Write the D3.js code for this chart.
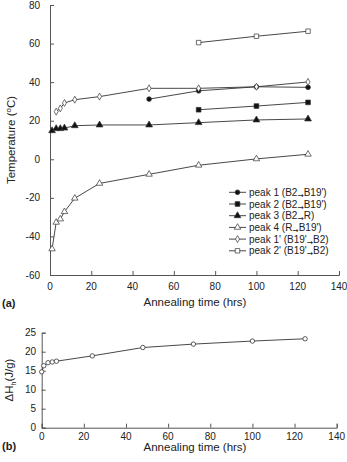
<!DOCTYPE html>
<html>
<head>
<meta charset="utf-8">
<script src="https://cdn.jsdelivr.net/npm/d3@7"></script>
<style>
  body { margin: 0; background: #fff; }
  text { font-family: "Liberation Sans", Arial, sans-serif; fill: #222; }
</style>
</head>
<body>
<div id="chart"></div>
<script>
// panel (a) data
const peak1 = { t: [48, 72, 100, 125], v: [31.2, 35.5, 37.6, 37.3] };
const peak2 = { t: [72, 100, 125], v: [25.7, 27.6, 29.5] };
const peak3 = { t: [1, 3, 5, 7, 12, 24, 48, 72, 100, 125], v: [14.8, 15.9, 15.9, 16.2, 17.4, 17.8, 17.8, 19.0, 20.4, 20.9] };
const peak4 = { t: [1, 3, 5, 7, 12, 24, 48, 72, 100, 125], v: [-46.5, -32.7, -31.0, -27.2, -20.2, -12.5, -7.8, -3.1, 0.2, 2.6] };
const peak1p = { t: [3, 5, 7, 12, 24, 48, 72, 100, 125], v: [24.7, 26.4, 29.2, 30.9, 32.5, 36.8, 36.8, 37.6, 40.1] };
const peak2p = { t: [72, 100, 125], v: [60.5, 63.8, 66.4] };
const legendNames = [
  ["peak 1 (B2", "B19')"],
  ["peak 2 (B2", "B19')"],
  ["peak 3 (B2", "R)"],
  ["peak 4 (R", "B19')"],
  ["peak 1' (B19'", "B2)"],
  ["peak 2' (B19'", "B2)"]
];
// panel (b) data
const enthalpy = { t: [0, 1, 3, 5, 7, 24, 48, 72, 100, 125], v: [14.7, 16.3, 17.1, 17.3, 17.5, 18.9, 21.1, 22.0, 22.8, 23.4] };

const xTicks = [0, 20, 40, 60, 80, 100, 120, 140];
const yTicksA = [-60, -40, -20, 0, 20, 40, 60, 80];
const yTicksB = [0, 5, 10, 15, 20, 25];

const svg = d3.select("#chart").append("svg")
  .attr("width", 347).attr("height", 462);

const lineColor = "#333";

// ---- panel (a)
const xA = d3.scaleLinear().domain([0, 140]).range([50, 339]);
const yA = d3.scaleLinear().domain([-60, 80]).range([275, 5]);

function drawAxes(x, y, yTicks, labelX, labelOffset) {
  // inward ticks, left + bottom only
  svg.append("g")
    .attr("transform", `translate(0,${y.range()[0]})`)
    .call(d3.axisTop(x).tickValues(xTicks).tickSize(4).tickFormat(""))
    .call(g => g.select(".domain").attr("stroke", "#555"))
    .call(g => g.selectAll(".tick line").attr("stroke", "#555"));
  svg.append("g")
    .attr("transform", `translate(${x.range()[0]},0)`)
    .call(d3.axisRight(y).tickValues(yTicks).tickSize(4).tickFormat(""))
    .call(g => g.select(".domain").attr("stroke", "#555"))
    .call(g => g.selectAll(".tick line").attr("stroke", "#555"));
  svg.selectAll(null).data(xTicks).enter().append("text")
    .attr("x", d => x(d)).attr("y", y.range()[0] + labelOffset)
    .attr("text-anchor", "middle").style("font-size", "10px").text(d => d);
  svg.selectAll(null).data(yTicks).enter().append("text")
    .attr("x", labelX).attr("y", d => y(d) + 3.5)
    .attr("text-anchor", "end").style("font-size", "10px").text(d => d);
}
drawAxes(xA, yA, yTicksA, 40, 15);

function symbolFor(type, size) {
  return d3.symbol().type(type).size(size)();
}

const seriesA = [
  { d: peak1, type: d3.symbolCircle, size: 18, fill: "#111" },
  { d: peak2, type: d3.symbolSquare, size: 22, fill: "#111" },
  { d: peak3, type: d3.symbolTriangle, size: 20, fill: "#111" },
  { d: peak4, type: d3.symbolTriangle, size: 18, fill: "#fff" },
  { d: peak1p, type: d3.symbolDiamond, size: 14, fill: "#fff" },
  { d: peak2p, type: d3.symbolSquare, size: 20, fill: "#fff" }
];

const lineA = d3.line().x(d => xA(d[0])).y(d => yA(d[1]));
seriesA.forEach(s => {
  const pts = s.d.t.map((t, i) => [t, s.d.v[i]]);
  svg.append("path").attr("d", lineA(pts))
    .attr("fill", "none").attr("stroke", lineColor).attr("stroke-width", 0.9);
  svg.selectAll(null).data(pts).enter().append("path")
    .attr("transform", d => `translate(${xA(d[0])},${yA(d[1])})`)
    .attr("d", symbolFor(s.type, s.size))
    .attr("fill", s.fill).attr("stroke", "#333").attr("stroke-width", 0.7);
});

// legend
const legend = svg.append("g");
seriesA.forEach((s, i) => {
  const ly = 192.3 + i * 11.7;
  legend.append("line").attr("x1", 229).attr("x2", 246).attr("y1", ly).attr("y2", ly)
    .attr("stroke", lineColor).attr("stroke-width", 0.9);
  legend.append("path").attr("transform", `translate(237.5,${ly})`)
    .attr("d", symbolFor(s.type, s.size))
    .attr("fill", s.fill).attr("stroke", "#333").attr("stroke-width", 0.7);
  const t = legend.append("text").attr("x", 249).attr("y", ly + 3.5).style("font-size", "10px");
  t.append("tspan").text(legendNames[i][0]);
  t.append("tspan").attr("dy", 2).style("font-size", "7.5px")
    .style("font-family", "'DejaVu Sans', sans-serif").text("\u2192");
  t.append("tspan").attr("dy", -2).text(legendNames[i][1]);
});

// axis titles (a)
const yTitleA = svg.append("text")
  .attr("transform", "translate(15,140) rotate(-90)")
  .attr("text-anchor", "middle").style("font-size", "11.5px");
yTitleA.append("tspan").text("Temperature (");
yTitleA.append("tspan").attr("dy", -4).style("font-size", "8px").text("o");
yTitleA.append("tspan").attr("dy", 4).text("C)");
svg.append("text").attr("x", 195).attr("y", 306).attr("text-anchor", "middle")
  .style("font-size", "11.5px").text("Annealing time (hrs)");
svg.append("text").attr("x", 2).attr("y", 307).style("font-size", "11px")
  .style("font-weight", "bold").text("(a)");

// ---- panel (b)
const xB = d3.scaleLinear().domain([0, 140]).range([41.7, 336.7]);
const yB = d3.scaleLinear().domain([0, 25]).range([427.7, 332.7]);
drawAxes(xB, yB, yTicksB, 36, 12.5);

const ptsB = enthalpy.t.map((t, i) => [t, enthalpy.v[i]]);
svg.append("path")
  .attr("d", d3.line().x(d => xB(d[0])).y(d => yB(d[1]))(ptsB))
  .attr("fill", "none").attr("stroke", lineColor).attr("stroke-width", 0.9);
svg.selectAll(null).data(ptsB).enter().append("circle")
  .attr("cx", d => xB(d[0])).attr("cy", d => yB(d[1])).attr("r", 2.2)
  .attr("fill", "#fff").attr("stroke", "#333").attr("stroke-width", 0.8);

const yTitleB = svg.append("text")
  .attr("transform", "translate(13,380) rotate(-90)")
  .attr("text-anchor", "middle").style("font-size", "11.5px");
yTitleB.append("tspan").text("\u0394H");
yTitleB.append("tspan").attr("dy", 3).style("font-size", "7px").text("h");
yTitleB.append("tspan").attr("dy", -3).text("(J/g)");
svg.append("text").attr("x", 195).attr("y", 451).attr("text-anchor", "middle")
  .style("font-size", "11.5px").text("Annealing time (hrs)");
svg.append("text").attr("x", 2).attr("y", 450).style("font-size", "11px")
  .style("font-weight", "bold").text("(b)");
</script>
</body>
</html>
